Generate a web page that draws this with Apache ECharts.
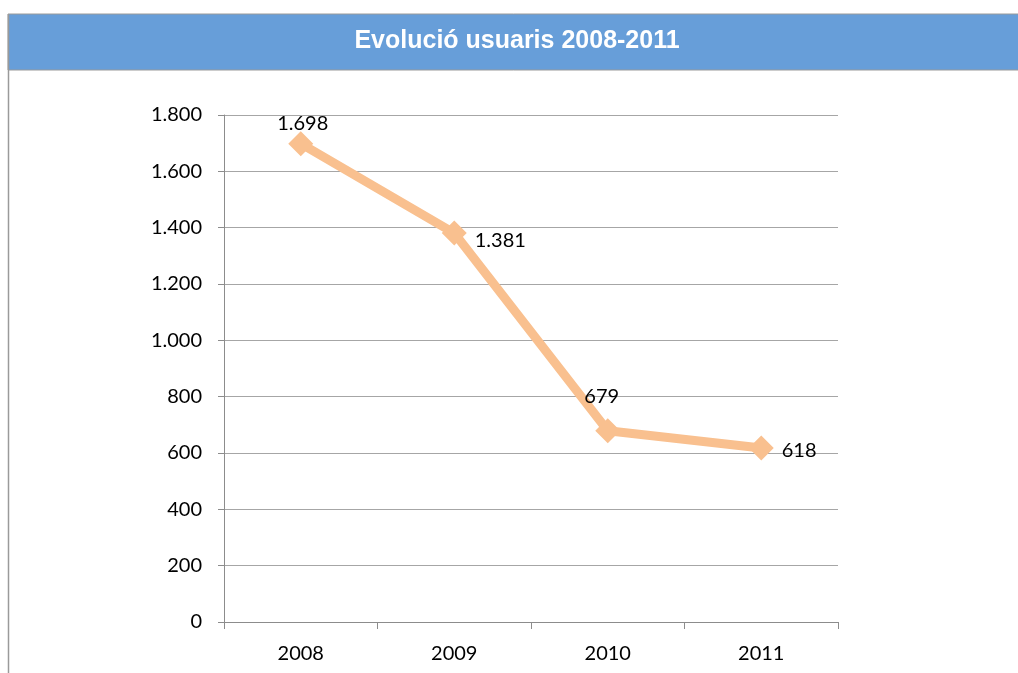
<!DOCTYPE html>
<html><head><meta charset="utf-8">
<script src="https://cdn.jsdelivr.net/npm/echarts@6/dist/echarts.min.js"></script>
<style>html,body{margin:0;padding:0;background:#fff}#c{width:1018px;height:673px}</style>
</head><body><div id="c"></div>
<script>
const title = 'Evolució usuaris 2008-2011';
const categories = ['2008', '2009', '2010', '2011'];
const users = [1698, 1381, 679, 618];
const labelPositions = ['top', 'right', 'top', 'right'];
const labelOffsets = [[2, 4], [6, 8], [-6, -10], [6, 3]];

const fmt = v => String(v).replace(/\B(?=(\d{3})+(?!\d))/g, '.');
const chart = echarts.init(document.getElementById('c'));
chart.setOption({
  animation: false,
  backgroundColor: '#fff',
  graphic: [
    { type: 'rect', shape: { x: 8, y: 14, width: 1020, height: 56 }, style: { fill: '#679ed9', stroke: '#9a9a9a', lineWidth: 1 } },
    { type: 'line', shape: { x1: 8.5, y1: 14, x2: 8.5, y2: 673 }, style: { stroke: '#9a9a9a', lineWidth: 1.5 } },
    { type: 'text', x: 517, y: 41, style: { text: title, fill: '#fff', font: 'bold 25px "Liberation Sans", Arial, sans-serif', textAlign: 'center', textVerticalAlign: 'middle' } }
  ],
  grid: { left: 224, right: 180, top: 115, bottom: 51 },
  xAxis: {
    type: 'category', data: categories, boundaryGap: true,
    axisLine: { lineStyle: { color: '#8c8c8c', width: 1 } },
    axisTick: { show: true, length: 7, lineStyle: { color: '#8c8c8c' } },
    axisLabel: { color: '#000', fontSize: 20, fontFamily: 'Lato, sans-serif', margin: 22 }
  },
  yAxis: {
    type: 'value', min: 0, max: 1800, interval: 200,
    axisLine: { show: true, lineStyle: { color: '#8c8c8c', width: 1 } },
    axisTick: { show: true, length: 6, lineStyle: { color: '#8c8c8c' } },
    splitLine: { lineStyle: { color: '#a6a6a6', width: 1 } },
    axisLabel: { color: '#000', fontSize: 20, fontFamily: 'Lato, sans-serif', margin: 22, formatter: fmt }
  },
  series: [{
    type: 'line',
    data: users.map((v, i) => ({ value: v, label: { position: labelPositions[i], offset: labelOffsets[i] } })),
    lineStyle: { color: '#f9c08f', width: 9 },
    itemStyle: { color: '#f9c08f' },
    symbol: 'diamond', symbolSize: 25,
    label: { show: true, color: '#000', fontSize: 20, fontFamily: 'Lato, sans-serif', distance: 2, formatter: p => fmt(p.value) }
  }]
});
</script></body></html>
